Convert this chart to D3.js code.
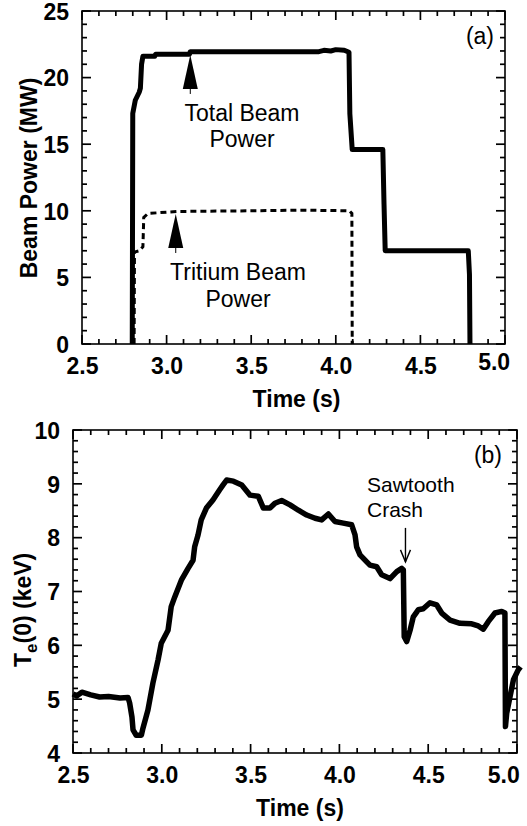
<!DOCTYPE html>
<html>
<head>
<meta charset="utf-8">
<script src="https://cdn.jsdelivr.net/npm/d3@7"></script>
<style>
  html, body { margin: 0; padding: 0; background: #fff; }
  svg { display: block; font-family: "Liberation Sans", Arial, Helvetica, sans-serif; }
</style>
</head>
<body>
<svg id="chart" width="527" height="826"></svg>
<script>
// ---------- data ----------
// Panel (a): beam power vs time
const totalBeamTime  = [2.797, 2.800, 2.815, 2.838, 2.845, 2.852, 2.860, 2.930, 2.935, 3.135, 3.140, 3.900, 3.930, 3.970, 4.000, 4.050, 4.078, 4.083, 4.097, 4.278, 4.285, 4.292, 4.783, 4.790, 4.793];
const totalBeamPower = [0.0,   17.3,  18.3,  18.9,  19.2,  21.0,  21.6,  21.6,  21.75, 21.75, 21.95, 21.95, 22.05, 22.0,  22.1,  22.05, 21.9,  17.3,  14.6,  14.6,  10.5,  7.0,   7.0,   5.2,   0.0];
const tritiumTime  = [2.808, 2.810, 2.840, 2.860, 2.865, 2.890, 3.060, 3.500, 3.800, 4.080, 4.095, 4.097];
const tritiumPower = [0.0,   6.9,   7.0,   7.3,   9.5,   9.8,   9.95,  10.0,  10.05, 10.0,  9.8,   0.0];

// Panel (b): central electron temperature vs time
const teTime = [2.500, 2.520, 2.550, 2.600, 2.650, 2.700, 2.765, 2.810, 2.819, 2.832, 2.838, 2.856, 2.885, 2.894, 2.922, 2.950, 2.979, 2.997, 3.035, 3.053, 3.073, 3.110, 3.148, 3.176, 3.185, 3.204, 3.222, 3.251, 3.288, 3.326, 3.345,
                3.365, 3.403, 3.450, 3.497, 3.543, 3.572, 3.609, 3.637, 3.675, 3.722, 3.769, 3.816, 3.863, 3.900, 3.938, 3.975, 4.022, 4.069, 4.088, 4.097, 4.116, 4.154, 4.172,
                4.210, 4.238, 4.285, 4.323, 4.351, 4.360, 4.365, 4.379, 4.398, 4.416, 4.444, 4.472, 4.510, 4.548, 4.576, 4.623, 4.679, 4.745, 4.782, 4.810, 4.838, 4.876, 4.914, 4.932, 4.935, 4.942, 4.961, 4.980, 5.006, 5.020];
const teValue = [5.10, 5.06, 5.13, 5.08, 5.04, 5.05, 5.02, 5.03, 4.93, 4.67, 4.43, 4.33, 4.33, 4.46, 4.80, 5.30, 5.73, 6.04, 6.28, 6.72, 6.90, 7.21, 7.43, 7.58, 7.83, 8.05, 8.33, 8.55, 8.70, 8.89, 8.98,
                 9.07, 9.05, 8.98, 8.79, 8.77, 8.55, 8.55, 8.64, 8.69, 8.61, 8.51, 8.42, 8.36, 8.33, 8.44, 8.30, 8.27, 8.24, 8.05, 7.83, 7.68, 7.55, 7.49,
                 7.46, 7.31, 7.24, 7.37, 7.43, 7.40, 6.16, 6.07, 6.28, 6.53, 6.66, 6.68, 6.79, 6.75, 6.60, 6.47, 6.41, 6.40, 6.36, 6.30, 6.44, 6.60, 6.63, 6.60, 4.49, 4.74, 5.05, 5.36, 5.54, 5.60];

// Axis ticks
const timeTicks   = [2.5, 3.0, 3.5, 4.0, 4.5, 5.0];
const timeLabels  = ["2.5", "3.0", "3.5", "4.0", "4.5", "5.0"];
const timeMinor   = [2.6, 2.7, 2.8, 2.9, 3.1, 3.2, 3.3, 3.4, 3.6, 3.7, 3.8, 3.9, 4.1, 4.2, 4.3, 4.4, 4.6, 4.7, 4.8, 4.9];
const powerTicks  = [0, 5, 10, 15, 20, 25];
const powerMinor  = [1, 2, 3, 4, 6, 7, 8, 9, 11, 12, 13, 14, 16, 17, 18, 19, 21, 22, 23, 24];
const teTicks     = [4, 5, 6, 7, 8, 9, 10];
const teMinor     = [4.2, 4.4, 4.6, 4.8, 5.2, 5.4, 5.6, 5.8, 6.2, 6.4, 6.6, 6.8, 7.2, 7.4, 7.6, 7.8, 8.2, 8.4, 8.6, 8.8, 9.2, 9.4, 9.6, 9.8];

// Annotations
const labelA = "(a)";
const labelB = "(b)";
const totalLabel   = ["Total Beam", "Power"];
const tritiumLabel = ["Tritium Beam", "Power"];
const crashLabel   = ["Sawtooth", "Crash"];
const totalArrowAt   = [3.14, 21.7];
const tritiumArrowAt = [3.054, 9.76];
const crashArrowAt   = [4.372, 7.55];

// ---------- drawing ----------
const svg = d3.select("#chart");
const FONT = 23;

function zip(a, b) { return a.map((v, i) => [v, b[i]]); }

function drawLabels(g, x, y, xLabels, yTicks, opts) {
  const x0 = x.range()[0];
  const y0 = y.range()[0];
  const xb = g.append("g").attr("transform", "translate(0," + y0 + ")")
    .call(d3.axisBottom(x).tickValues(timeTicks).tickSize(0).tickPadding(14)
      .tickFormat((d, i) => xLabels[i]));
  const yl = g.append("g").attr("transform", "translate(" + x0 + ",0)")
    .call(d3.axisLeft(y).tickValues(yTicks).tickSize(0).tickPadding(13).tickFormat(d3.format("d")));
  xb.select(".domain").remove();
  yl.select(".domain").remove();
  xb.selectAll(".tick line").remove();
  yl.selectAll(".tick line").remove();
  [xb, yl].forEach(a => a.selectAll(".tick text").attr("font-size", FONT).attr("font-weight", "bold")
    .attr("fill", "#000").attr("font-family", "Liberation Sans, Arial, sans-serif"));
  yl.selectAll(".tick text").attr("dy", "0.36em");
  xb.selectAll(".tick text").filter(d => d === 5.0)
    .attr("text-anchor", "end").attr("dx", opts.lastDx).attr("dy", opts.lastDy);
}

// one inward tick line, appended straight to the svg
function tickLine(xa, ya, xb2, yb2) {
  svg.append("line")
    .attr("x1", xa).attr("y1", ya).attr("x2", xb2).attr("y2", yb2)
    .style("stroke", "#000").style("stroke-width", "1.7px");
}

function drawFrameAndTicks(x, y, xMinor, xMajor, yMinor, yMajor) {
  const x0 = x.range()[0], x1 = x.range()[1];
  const y0 = y.range()[0], y1 = y.range()[1];
  const major = 9, minor = 5;
  xMinor.forEach(v => { tickLine(x(v), y0, x(v), y0 - minor); tickLine(x(v), y1, x(v), y1 + minor); });
  xMajor.forEach(v => { tickLine(x(v), y0, x(v), y0 - major); tickLine(x(v), y1, x(v), y1 + major); });
  yMinor.forEach(v => { tickLine(x0, y(v), x0 + minor, y(v)); tickLine(x1, y(v), x1 - minor, y(v)); });
  yMajor.forEach(v => { tickLine(x0, y(v), x0 + major, y(v)); tickLine(x1, y(v), x1 - major, y(v)); });
  svg.append("rect").attr("x", x0).attr("y", y1).attr("width", x1 - x0).attr("height", y0 - y1)
    .style("fill", "none").style("stroke", "#000").style("stroke-width", "1.6px");
}

function multiText(g, lines, cx, baseline, lh, anchor, size) {
  const t = g.append("text").attr("x", cx).attr("y", baseline)
    .attr("text-anchor", anchor).attr("font-size", size).attr("fill", "#000");
  lines.forEach((s, i) => t.append("tspan").attr("x", cx).attr("y", baseline + i * lh).text(s));
}

function upArrow(g, x, y, at) {
  const tx = x(at[0]), ty = y(at[1]);
  g.append("path").attr("d", "M" + tx + "," + ty + " L" + (tx - 7.5) + "," + (ty + 34) + " L" + (tx + 7.5) + "," + (ty + 34) + " Z").attr("fill", "#000");
  g.append("line").attr("x1", tx).attr("x2", tx).attr("y1", ty + 33).attr("y2", ty + 39)
    .attr("stroke", "#000").attr("stroke-width", 1);
}

// ===== Panel (a) =====
const xA = d3.scaleLinear().domain([2.5, 5.0]).range([82, 505]);
const yA = d3.scaleLinear().domain([0, 25]).range([344, 11]);
const gA = svg.append("g");
drawLabels(gA, xA, yA, timeLabels, powerTicks, { lastDx: "0.2em", lastDy: "0.52em" });

const lineA = d3.line().x(d => xA(d[0])).y(d => yA(d[1]));
gA.append("path").datum(zip(totalBeamTime, totalBeamPower))
  .attr("d", lineA).attr("fill", "none").attr("stroke", "#000")
  .attr("stroke-width", 5).attr("stroke-linejoin", "round");
gA.append("path").datum(zip(tritiumTime, tritiumPower))
  .attr("d", lineA).attr("fill", "none").attr("stroke", "#000")
  .attr("stroke-width", 3).attr("stroke-dasharray", "6,4");

upArrow(gA, xA, yA, totalArrowAt);
upArrow(gA, xA, yA, tritiumArrowAt);
multiText(gA, totalLabel, 242, 121, 26, "middle", FONT);
multiText(gA, tritiumLabel, 238, 280, 27, "middle", FONT);
gA.append("text").attr("x", 494).attr("y", 44).attr("text-anchor", "end")
  .attr("font-size", FONT).text(labelA);

gA.append("text").attr("x", (82 + 505) / 2 + 3).attr("y", 407).attr("text-anchor", "middle")
  .attr("font-size", FONT).attr("font-weight", "bold").text("Time (s)");
gA.append("text").attr("transform", "translate(37,178) rotate(-90)").attr("text-anchor", "middle")
  .attr("font-size", FONT).attr("font-weight", "bold").text("Beam Power (MW)");

// ===== Panel (b) =====
const xB = d3.scaleLinear().domain([2.5, 5.0]).range([73, 517]);
const yB = d3.scaleLinear().domain([4, 10]).range([753, 430]);
const gB = svg.append("g");
drawLabels(gB, xB, yB, timeLabels, teTicks, { lastDx: "0.1em", lastDy: "0.71em" });

const lineB = d3.line().x(d => xB(d[0])).y(d => yB(d[1]));
gB.append("path").datum(zip(teTime, teValue))
  .attr("d", lineB).attr("fill", "none").attr("stroke", "#000")
  .attr("stroke-width", 5.5).attr("stroke-linejoin", "round");

{
  const ax = xB(crashArrowAt[0]), ay = yB(crashArrowAt[1]);
  gB.append("line").attr("x1", ax).attr("x2", ax).attr("y1", ay - 34).attr("y2", ay)
    .attr("stroke", "#000").attr("stroke-width", 1.4);
  gB.append("path").attr("d", "M" + (ax - 5) + "," + (ay - 12) + " L" + ax + "," + ay + " L" + (ax + 5) + "," + (ay - 12))
    .attr("fill", "none").attr("stroke", "#000").attr("stroke-width", 1.4);
}
multiText(gB, crashLabel, 367, 492, 25, "start", 21);
gB.append("text").attr("x", 502).attr("y", 463).attr("text-anchor", "end")
  .attr("font-size", FONT).text(labelB);

gB.append("text").attr("x", (73 + 517) / 2 + 5).attr("y", 816).attr("text-anchor", "middle")
  .attr("font-size", FONT).attr("font-weight", "bold").text("Time (s)");
{
  const t = gB.append("text").attr("transform", "translate(31,667) rotate(-90)").attr("text-anchor", "start")
    .attr("font-size", FONT).attr("font-weight", "bold");
  t.append("tspan").text("T");
  t.append("tspan").attr("font-size", 17).attr("dy", 6).text("e");
  t.append("tspan").attr("dy", -6).text("(0) (keV)");
}

// frames and inward ticks, drawn last
drawFrameAndTicks(xA, yA, timeMinor, timeTicks, powerMinor, powerTicks);
drawFrameAndTicks(xB, yB, timeMinor, timeTicks, teMinor, teTicks);
</script>
</body>
</html>
